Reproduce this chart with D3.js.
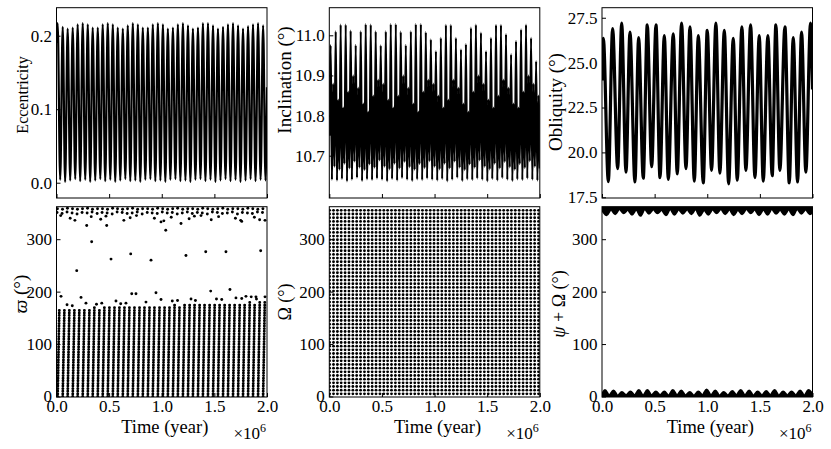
<!DOCTYPE html>
<html>
<head>
<meta charset="utf-8">
<script src="https://cdn.jsdelivr.net/npm/d3@7"></script>
<style>
  body { margin: 0; background: #fff; }
  svg text { font-family: "Liberation Serif", "DejaVu Serif", serif; fill: #000; }
</style>
</head>
<body>
<svg id="fig" width="831" height="449"></svg>
<script>
// ---- data (time in kyr) ----
const timeTicks = [0, 500, 1000, 1500, 2000];

// eccentricity: maxima and minima of each cycle
const eccPeakT = [11,59,106,154,201,249,297,344,392,439,487,535,582,630,677,725,773,820,868,915,963,1011,1058,1106,1153,1201,1249,1296,1344,1391,1439,1487,1534,1582,1629,1677,1725,1772,1820,1867,1915,1963];
const eccPeak = [0.217,0.212,0.2095,0.211,0.2155,0.217,0.2155,0.211,0.211,0.2155,0.217,0.2155,0.211,0.2095,0.214,0.217,0.2155,0.211,0.211,0.2155,0.217,0.2155,0.2095,0.211,0.2155,0.217,0.214,0.2095,0.211,0.217,0.217,0.214,0.2095,0.212,0.2155,0.217,0.214,0.2095,0.213,0.2155,0.217,0.214];
const eccTroughT = [35,82,130,178,225,273,320,368,416,463,511,558,606,654,701,749,796,844,892,939,987,1034,1082,1130,1177,1225,1272,1320,1368,1415,1463,1510,1558,1606,1653,1701,1748,1796,1844,1891,1939,1986];
const eccTrough = [0.004,0.001,0.003,0.005,0.002,0.004,0.001,0.003,0.005,0.002,0.004,0.001,0.003,0.005,0.002,0.003,0.001,0.004,0.005,0.002,0.003,0.001,0.004,0.005,0.002,0.003,0.001,0.004,0.005,0.002,0.004,0.001,0.003,0.005,0.002,0.004,0.001,0.003,0.005,0.002,0.004,0.003];
const eccEnds = [[0, 0.19], [2000, 0.13]];

// inclination: per cycle a tall spike, deep dip, middle peak, shallow dip
const incT = [13,61,108,156,203,251,299,346,394,441,489,537,584,632,679,727,775,822,870,917,965,1013,1060,1108,1155,1203,1251,1298,1346,1393,1441,1489,1536,1584,1631,1679,1727,1774,1822,1869,1917,1965];
const incPhase = [0, 12, 24, 36];
const incPeak = [10.975,11.01,11.027,11.027,11.012,10.976,11.01,11.028,11.027,11.01,10.975,11.01,11.028,11.028,11.009,10.976,11.01,11.028,11.028,11.008,10.99,10.961,10.994,11.026,11.026,10.994,10.965,10.978,11.019,11.027,11.007,10.961,10.994,11.026,11.026,11.003,10.953,10.986,11.015,11.027,10.994,10.936];
const incLow1 = [10.64,10.638,10.642,10.636,10.64,10.645,10.637,10.641,10.639,10.643,10.64,10.636,10.642,10.638,10.644,10.64,10.637,10.641,10.639,10.643,10.64,10.638,10.642,10.636,10.64,10.645,10.637,10.641,10.639,10.643,10.64,10.636,10.642,10.638,10.644,10.64,10.637,10.641,10.639,10.643,10.64,10.638];
const incMid = [10.88,10.84,10.82,10.86,10.90,10.87,10.83,10.81,10.85,10.89,10.88,10.84,10.82,10.85,10.90,10.87,10.83,10.81,10.86,10.89,10.88,10.85,10.82,10.84,10.89,10.87,10.83,10.81,10.86,10.90,10.88,10.84,10.82,10.85,10.89,10.87,10.83,10.82,10.86,10.90,10.88,10.85];
const incLow2 = [10.672,10.665,10.68,10.668,10.685,10.67,10.664,10.678,10.67,10.688,10.672,10.666,10.68,10.668,10.684,10.671,10.665,10.679,10.669,10.686,10.672,10.666,10.68,10.668,10.685,10.67,10.664,10.678,10.67,10.688,10.672,10.666,10.68,10.668,10.684,10.671,10.665,10.679,10.669,10.686,10.672,10.668];
const incStart = [0, 10.75];

// obliquity: alternating extrema
const oblT = [0,13,60,101,149,187,228,266,313,348,392,430,472,513,551,592,630,677,715,756,798,836,877,915,962,1000,1041,1082,1120,1162,1203,1247,1285,1329,1367,1412,1453,1494,1532,1576,1617,1652,1690,1738,1779,1817,1858,1896,1937,1981,2000];
const oblV = [24.0,26.35,18.37,26.9,19.1,27.2,18.9,26.7,18.35,26.4,18.56,27.1,19.2,27.1,18.6,26.5,18.5,26.6,18.8,27.2,19.1,27.0,18.4,26.5,18.3,26.8,19.0,27.2,18.85,26.8,18.25,26.35,18.45,27.0,19.0,27.1,18.6,26.5,18.4,26.5,18.7,27.1,19.0,27.0,18.3,26.4,18.35,26.7,18.9,27.2,23.5];

// longitude of perihelion: dense column per cycle + scattered points
const varpiT0 = [11,59,106,154,201,249,297,344,392,439,487,535,582,630,677,725,773,820,868,915,963,1011,1058,1106,1153,1201,1249,1296,1344,1391,1439,1487,1534,1582,1629,1677,1725,1772,1820,1867,1915,1963];
const varpiT1 = [27,75,122,170,217,265,313,360,408,455,503,551,598,646,693,741,789,836,884,931,979,1027,1074,1122,1169,1217,1265,1312,1360,1407,1455,1503,1550,1598,1645,1693,1741,1788,1836,1883,1931,1979];
const varpiTop = [168,166,165,165,166,167,168,170,169,170,171,170,171,172,171,172,172,171,172,173,172,173,174,175,174,175,176,175,176,177,176,177,178,177,178,179,178,179,180,179,180,181];
const varpiHiT = [9,57,104,152,199,247,295,342,390,437,485,533,580,628,675,723,771,818,866,913,961,1009,1056,1104,1151,1199,1247,1294,1342,1389,1437,1485,1532,1580,1627,1675,1723,1770,1818,1865,1913,1961];
const varpiHiV = [358,357,359,358,357,358,359,357,358,358,357,359,358,357,358,359,357,358,358,357,359,358,357,358,359,357,358,358,357,359,358,357,358,359,357,358,358,357,359,358,357,358];
const varpiMidT = [5,53,100,148,195,243,291,338,386,433,481,529,576,624,671,719,767,814,862,909,957,1005,1052,1100,1147,1195,1243,1290,1338,1385,1433,1481,1528,1576,1623,1671,1719,1766,1814,1861,1909,1957];
const varpiMidV = [351,349,352,350,348,351,350,352,349,351,350,348,352,351,349,350,352,348,351,350,349,352,350,351,348,350,352,349,351,350,348,352,351,349,350,352,348,351,350,349,352,351];
const varpiSparse = [[43,191],[192,240],[233,189],[280,178],[287,326],[334,295],[477,326],[518,262],[565,182],[705,272],[715,196],[755,196],[898,260],[945,198],[993,333],[1038,317],[993,185],[1183,330],[1230,269],[1278,186],[1373,345],[1418,276],[1465,201],[1610,276],[1648,204],[1705,188],[1750,336],[1800,191],[1850,190],[1895,190],[1940,278],[1981,336],[1981,190],[100,175],[150,173],[380,176],[430,178],[610,177],[660,178],[850,180],[1100,182],[1150,183],[1320,183],[1520,186],[1570,185],[1760,187],[1900,186],[40,345],[130,340],[175,336],[330,343],[420,338],[470,344],[640,336],[700,341],[760,345],[930,340],[1020,335],[1090,342],[1260,339],[1310,344],[1470,337],[1540,343],[1700,340],[1760,334],[1880,342],[1930,337]];

// longitude of node: sampled points fall on a regular lattice
const omegaColT = [3,40,77,113,150,187,224,260,297,334,371,407,444,481,518,554,591,628,665,701,738,775,812,848,885,922,959,995,1032,1069,1106,1142,1179,1216,1253,1289,1326,1363,1400,1436,1473,1510,1547,1583,1620,1657,1694,1730,1767,1804,1841,1877,1914,1951,1988];
const omegaRowV = [5,12,19,26,33,40,47,54,61,68,75,82,89,96,103,110,117,124,131,138,145,152,159,166,173,180,187,194,201,208,215,222,229,236,243,250,257,264,271,278,285,292,299,306,313,320,327,334,341,348,355];

// psi + Omega: libration band near 0 and its wrap near 360
const psiBotT = [28,109,189,270,350,431,512,592,673,753,834,915,995,1076,1156,1237,1318,1398,1479,1559,1640,1721,1801,1882,1962];
const psiBotPeak = [12,11,8,9,12,12,9,9,12,11,8,9,13,11,8,10,12,11,9,10,12,9,9,11,12];
const psiBotLowT = [68,149,229,310,390,471,552,632,713,793,874,955,1035,1116,1196,1277,1358,1438,1519,1599,1680,1761,1841,1922];
const psiBotLow = [2,1.5,2.5,2,1.5,2,2.5,1.5,2,2,1.5,2.5,2,1.5,2,2.5,2,1.5,2,2.5,1.5,2,2,1.5];
const psiTopT = [44,125,205,285,366,446,527,607,688,768,849,929,1010,1090,1170,1251,1331,1412,1492,1573,1653,1733,1814,1894,1975];
const psiTopLow = [346,348,350,347,345,349,350,346,347,349,348,345,347,350,348,346,348,350,346,347,349,347,346,349,348];
const psiTopHighT = [85,165,245,326,406,487,567,648,728,809,889,970,1050,1130,1211,1291,1372,1452,1533,1613,1693,1774,1854,1935];
const psiTopHigh = [357,358,356,357,358,357,356,358,357,357,358,356,357,358,357,356,358,357,357,358,356,357,358,357];

// ---- layout ----
const cols = [56.5, 329.3, 602], colW = 210.5;
const rows = [7.7, 206.7], rowH = 190.3;
const svg = d3.select('#fig');
const x = d3.scaleLinear().domain([0, 2000]).range([0, colW]);
let clipN = 0;

function panel(ci, ri, yDomain) {
  const g = svg.append('g').attr('transform', `translate(${cols[ci]},${rows[ri]})`);
  const y = d3.scaleLinear().domain(yDomain).range([rowH, 0]);
  const id = 'clip' + (clipN++);
  g.append('clipPath').attr('id', id).append('rect').attr('width', colW).attr('height', rowH);
  const plot = g.append('g').attr('clip-path', `url(#${id})`);
  return { g, plot, y };
}

function axes(p, yTicks, fmt, showX) {
  const ya = d3.axisLeft(p.y).tickValues(yTicks).tickFormat(fmt).tickSize(-4).tickPadding(4.5);
  p.g.append('g').call(ya)
    .attr('font-size', 17).attr('font-family', null)
    .call(a => a.select('.domain').remove())
    .call(a => a.selectAll('line').attr('stroke', '#000'));
  const xa = d3.axisBottom(x).tickValues(timeTicks).tickSize(-4).tickPadding(2.5)
    .tickFormat(showX ? d => (d / 1000).toFixed(1) : () => '');
  p.g.append('g').attr('transform', `translate(0,${rowH})`).call(xa)
    .attr('font-size', 17).attr('font-family', null)
    .call(a => a.select('.domain').remove())
    .call(a => a.selectAll('line').attr('stroke', '#000'));
  p.g.append('rect').attr('width', colW).attr('height', rowH)
    .attr('fill', 'none').attr('stroke', '#000').attr('stroke-width', 1);
  if (showX) {
    p.g.append('text').attr('x', colW / 2 + 3).attr('y', rowH + 36)
      .attr('text-anchor', 'middle').attr('font-size', 18.5).text('Time (year)');
    const m = p.g.append('text').attr('x', colW - 1).attr('y', rowH + 42)
      .attr('text-anchor', 'end').attr('font-size', 17);
    m.append('tspan').text('×10');
    m.append('tspan').attr('dy', -7).attr('font-size', 12).text('6');
  }
}

function ylabel(p, cx, cy, size, parts) {
  const t = svg.append('text')
    .attr('transform', `translate(${cx},${cy}) rotate(-90)`)
    .attr('text-anchor', 'middle').attr('dy', '0.35em').attr('font-size', size);
  parts.forEach(([s, it]) => t.append('tspan').attr('font-style', it ? 'italic' : null).text(s));
}

const curve = (y) => d3.line().x(d => x(d[0])).y(d => y(d[1])).curve(d3.curveMonotoneX);
const deg = v => d3.format('d')(v);

// ---- Eccentricity ----
{
  const p = panel(0, 0, [-0.0208, 0.2381]);
  const pts = [eccEnds[0]];
  eccPeakT.forEach((t, k) => { pts.push([t, eccPeak[k]]); pts.push([eccTroughT[k], eccTrough[k]]); });
  pts.push(eccEnds[1]);
  p.plot.append('path').datum(pts).attr('d', curve(p.y))
    .attr('fill', 'none').attr('stroke', '#000').attr('stroke-width', 2.2).attr('stroke-linejoin', 'round');
  axes(p, [0, 0.1, 0.2], d3.format('.1f'), false);
  ylabel(p, 22, 95, 16, [['Eccentricity', false]]);
}

// ---- Inclination ----
{
  const p = panel(1, 0, [10.5946, 11.0688]);
  const pts = [incStart];
  incT.forEach((t, k) => {
    [incPeak[k], incLow1[k], incMid[k], incLow2[k]].forEach((v, j) => pts.push([t + incPhase[j], v]));
  });
  p.plot.append('path').datum(pts).attr('d', curve(p.y))
    .attr('fill', 'none').attr('stroke', '#000').attr('stroke-width', 2.15).attr('stroke-linejoin', 'round');
  axes(p, [10.7, 10.8, 10.9, 11.0], d3.format('.1f'), false);
  ylabel(p, 284, 80, 19, [['Inclination (°)', false]]);
}

// ---- Obliquity ----
{
  const p = panel(2, 0, [17.46, 28.06]);
  const pts = oblT.map((t, k) => [t, oblV[k]]);
  p.plot.append('path').datum(pts).attr('d', curve(p.y))
    .attr('fill', 'none').attr('stroke', '#000').attr('stroke-width', 3.2).attr('stroke-linejoin', 'round');
  axes(p, [17.5, 20, 22.5, 25, 27.5], d3.format('.1f'), false);
  ylabel(p, 555, 102, 19, [['Obliquity (°)', false]]);
}

const angDomain = [-1, 362];
const angTicks = [0, 100, 200, 300];

// ---- varpi ----
{
  const p = panel(0, 1, angDomain);
  p.plot.selectAll('line.col').data(varpiT0).join('line').attr('class', 'col')
    .attr('x1', d => x(d)).attr('y1', p.y(0))
    .attr('x2', (d, k) => x(varpiT1[k])).attr('y2', (d, k) => p.y(varpiTop[k]))
    .attr('stroke', '#000').attr('stroke-width', 2.9).attr('stroke-linecap', 'round')
    .attr('stroke-dasharray', '0.01 2.6');
  const dots = varpiSparse
    .concat(varpiHiT.map((t, k) => [t, varpiHiV[k]]))
    .concat(varpiMidT.map((t, k) => [t, varpiMidV[k]]));
  p.plot.selectAll('circle').data(dots).join('circle')
    .attr('cx', d => x(d[0])).attr('cy', d => p.y(d[1])).attr('r', 1.45).attr('fill', '#000');
  axes(p, angTicks, deg, true);
  ylabel(p, 20, 294, 19, [['ϖ', true], [' (°)', false]]);
}

// ---- Omega ----
{
  const p = panel(1, 1, angDomain);
  const pts = [];
  omegaColT.forEach(t => omegaRowV.forEach(v => pts.push([t, v])));
  p.plot.selectAll('circle').data(pts).join('circle')
    .attr('cx', d => x(d[0])).attr('cy', d => p.y(d[1])).attr('r', 1.42).attr('fill', '#000');
  axes(p, angTicks, deg, true);
  ylabel(p, 285, 302, 18, [['Ω (°)', false]]);
}

// ---- psi + Omega ----
{
  const p = panel(2, 1, angDomain);
  const bot = [[0, 3]];
  psiBotT.forEach((t, k) => {
    bot.push([t, psiBotPeak[k]]);
    if (k < psiBotLowT.length) bot.push([psiBotLowT[k], psiBotLow[k]]);
  });
  bot.push([2000, 4]);
  const top = [[0, 356]];
  psiTopT.forEach((t, k) => {
    top.push([t, psiTopLow[k]]);
    if (k < psiTopHighT.length) top.push([psiTopHighT[k], psiTopHigh[k]]);
  });
  top.push([2000, 352]);
  const band = (data, base) => p.plot.append('path').datum(data)
    .attr('d', d3.area().x(d => x(d[0])).y0(p.y(base)).y1(d => p.y(d[1])).curve(d3.curveMonotoneX))
    .attr('fill', '#000').attr('stroke', '#000').attr('stroke-width', 2.4).attr('stroke-linejoin', 'round');
  band(bot, angDomain[0]);
  band(top, angDomain[1]);
  axes(p, angTicks, deg, true);
  ylabel(p, 559, 304, 18, [['ψ', true], [' + Ω (°)', false]]);
}
</script>
</body>
</html>
